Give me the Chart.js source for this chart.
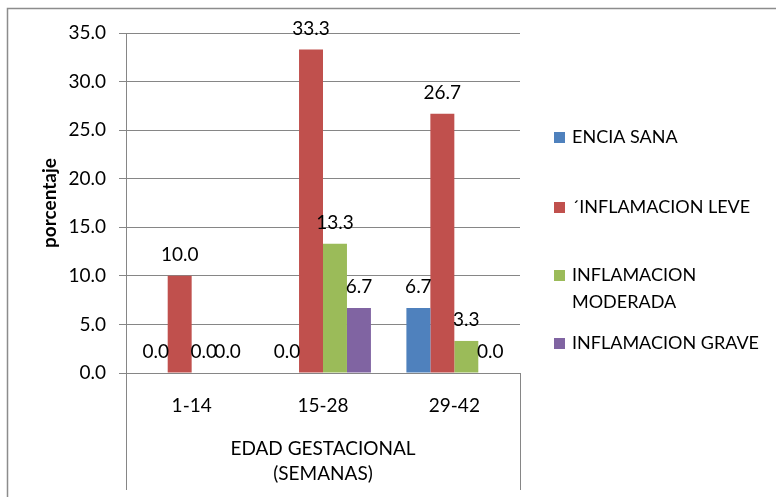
<!DOCTYPE html>
<html>
<head>
<meta charset="utf-8">
<script src="https://cdn.jsdelivr.net/npm/chart.js@4"></script>
<style>
  html, body { margin: 0; padding: 0; background: #fff; }
  #wrap { width: 776px; height: 497px; position: relative; }
</style>
</head>
<body>
<div id="wrap"><canvas id="grafico"></canvas></div>
<script>
const categorias = ["1-14", "15-28", "29-42"];
const enciaSana = [0.0, 0.0, 6.7];
const inflamacionLeve = [10.0, 33.3, 26.7];
const inflamacionModerada = [0.0, 13.3, 3.3];
const inflamacionGrave = [0.0, 6.7, 0.0];
const nombresSeries = ["ENCIA SANA", "´INFLAMACION LEVE", ["INFLAMACION", "MODERADA"], "INFLAMACION GRAVE"];

const FUENTE = "Lato, 'Open Sans', sans-serif";
const colores = ["#4F81BD", "#C0504D", "#9BBB59", "#8064A2"];

// etiquetas de valor encima de cada barra
const etiquetasValor = {
  id: "etiquetasValor",
  afterDatasetsDraw(chart) {
    const ctx = chart.ctx;
    ctx.save();
    ctx.font = "19px " + FUENTE;
    ctx.fillStyle = "#000";
    ctx.textAlign = "center";
    ctx.textBaseline = "middle";
    chart.data.datasets.forEach((ds, i) => {
      chart.getDatasetMeta(i).data.forEach((bar, j) => {
        ctx.fillText(ds.data[j].toFixed(1), bar.x, bar.y - 21);
      });
    });
    ctx.restore();
  }
};

// marco exterior, caja del eje de categorias y titulo vertical
const marcos = {
  id: "marcos",
  beforeDraw(chart) {
    const ctx = chart.ctx;
    ctx.save();
    ctx.strokeStyle = "#8c8c8c";
    ctx.lineWidth = 1.5;
    ctx.beginPath();
    ctx.moveTo(7.5, 600);
    ctx.lineTo(7.5, 8.5);
    ctx.lineTo(800, 8.5);
    ctx.stroke();
    ctx.restore();
  },
  afterDraw(chart) {
    const a = chart.chartArea;
    const ctx = chart.ctx;
    ctx.save();
    ctx.strokeStyle = "#868686";
    ctx.lineWidth = 1;
    ctx.beginPath();
    ctx.moveTo(Math.round(a.left) + 0.5, a.bottom);
    ctx.lineTo(Math.round(a.left) + 0.5, 490);
    ctx.moveTo(Math.round(a.right) + 0.5, a.bottom);
    ctx.lineTo(Math.round(a.right) + 0.5, 490);
    ctx.stroke();

    ctx.translate(50, (a.top + a.bottom) / 2);
    ctx.rotate(-Math.PI / 2);
    ctx.font = "bold 19px " + FUENTE;
    ctx.fillStyle = "#000";
    ctx.textAlign = "center";
    ctx.textBaseline = "middle";
    ctx.fillText("porcentaje", 0, 0);
    ctx.restore();
  }
};

// leyenda a la derecha
const leyenda = {
  id: "leyenda",
  afterDraw(chart) {
    const ctx = chart.ctx;
    const ys = [137, 207, 275, 343];
    ctx.save();
    ctx.font = "18px " + FUENTE;
    ctx.textBaseline = "middle";
    ctx.textAlign = "left";
    chart.data.datasets.forEach((ds, i) => {
      ctx.fillStyle = ds.backgroundColor;
      ctx.fillRect(554, ys[i] - 5, 11, 11);
      ctx.fillStyle = "#000";
      const lineas = Array.isArray(nombresSeries[i]) ? nombresSeries[i] : [nombresSeries[i]];
      lineas.forEach((t, k) => ctx.fillText(t, 572, ys[i] + k * 27));
    });
    ctx.restore();
  }
};

new Chart(document.getElementById("grafico"), {
  type: "bar",
  data: {
    labels: categorias,
    datasets: [
      { label: "ENCIA SANA", data: enciaSana, backgroundColor: colores[0] },
      { label: "´INFLAMACION LEVE", data: inflamacionLeve, backgroundColor: colores[1] },
      { label: "INFLAMACION MODERADA", data: inflamacionModerada, backgroundColor: colores[2] },
      { label: "INFLAMACION GRAVE", data: inflamacionGrave, backgroundColor: colores[3] },
    ],
  },
  options: {
    responsive: true,
    maintainAspectRatio: false,
    animation: false,
    devicePixelRatio: 1,
    datasets: { bar: { barPercentage: 1, categoryPercentage: 0.73 } },
    layout: { padding: { left: 0, right: 256, top: 33, bottom: 0 } },
    plugins: { legend: { display: false }, tooltip: { enabled: false } },
    scales: {
      x: {
        grid: { display: false, drawTicks: false },
        border: { display: true, color: "#868686" },
        ticks: { color: "#000", font: { family: FUENTE, size: 19 }, padding: 21, maxRotation: 0 },
        title: {
          display: true,
          text: ["EDAD GESTACIONAL", "(SEMANAS)"],
          color: "#000",
          font: { family: FUENTE, size: 19, lineHeight: 1.35 },
          padding: { top: 4, bottom: 10 },
        },
        afterFit(scale) { scale.height = 497 - 373; },
      },
      y: {
        min: 0,
        max: 35,
        ticks: {
          stepSize: 5,
          color: "#000",
          font: { family: FUENTE, size: 19 },
          padding: 13,
          callback: (v) => v.toFixed(1),
        },
        grid: { color: "#868686", tickLength: 7, tickColor: "#868686" },
        border: { display: true, color: "#868686" },
        afterFit(scale) { scale.width = 126; },
      },
    },
  },
  plugins: [etiquetasValor, marcos, leyenda],
});
</script>
</body>
</html>
